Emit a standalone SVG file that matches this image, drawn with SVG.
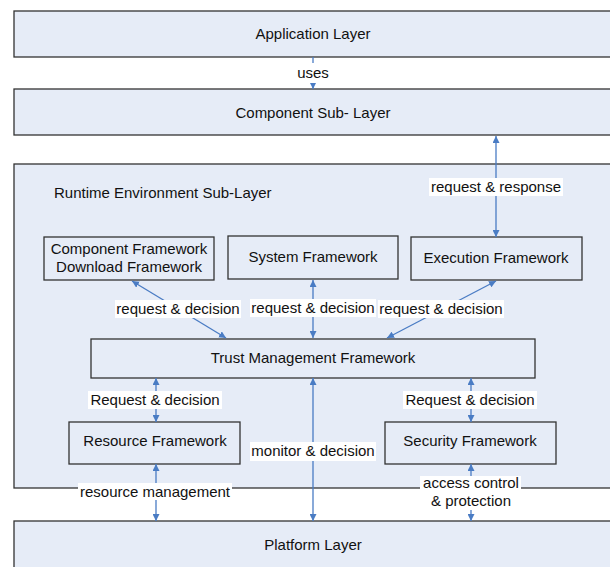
<svg xmlns="http://www.w3.org/2000/svg" width="610" height="567" viewBox="0 0 610 567">
<style>
.box{fill:#E6ECF7;stroke:#333;stroke-width:1.3}
.t{font-family:"Liberation Sans",Arial,sans-serif;font-size:15px;fill:#111;text-anchor:middle}
.tl{font-family:"Liberation Sans",Arial,sans-serif;font-size:15px;fill:#111}
.c{stroke:#4A7CC4;stroke-width:1.3;fill:none}
.bg{fill:#fff}
</style>
<defs>
<marker id="ah" viewBox="0 0 10 10" refX="10" refY="5" markerWidth="7" markerHeight="7" markerUnits="userSpaceOnUse" orient="auto-start-reverse">
<path d="M0,0 L10,5 L0,10 z" fill="#4A7CC4"/>
</marker>
</defs>
<rect width="610" height="567" fill="#fff"/>
<g id="application-layer"><rect class="box" x="14" y="11" width="610" height="46"/><text class="t" x="313" y="39">Application Layer</text></g>
<g id="component-sub-layer"><rect class="box" x="14" y="89" width="610" height="46"/><text class="t" x="313" y="118">Component Sub- Layer</text></g>
<g id="runtime-environment"><rect class="box" x="14" y="164" width="610" height="324"/><text class="tl" x="54" y="198">Runtime Environment Sub-Layer</text></g>
<g id="platform-layer"><rect class="box" x="14" y="521" width="610" height="60"/><text class="t" x="313" y="550">Platform Layer</text></g>
<g id="component-framework"><rect class="box" x="44" y="237" width="170" height="43"/><text class="t" x="129" y="254">Component Framework</text><text class="t" x="129" y="272">Download Framework</text></g>
<g id="system-framework"><rect class="box" x="228" y="236" width="170" height="43"/><text class="t" x="313" y="262">System Framework</text></g>
<g id="execution-framework"><rect class="box" x="411" y="237" width="171" height="43"/><text class="t" x="496" y="263">Execution Framework</text></g>
<g id="trust-management-framework"><rect class="box" x="91" y="339" width="444" height="39"/><text class="t" x="313" y="363">Trust Management Framework</text></g>
<g id="resource-framework"><rect class="box" x="69" y="422" width="171" height="42"/><text class="t" x="155" y="446">Resource Framework</text></g>
<g id="security-framework"><rect class="box" x="385" y="422" width="171" height="42"/><text class="t" x="470" y="446">Security Framework</text></g>
<g id="connectors">
<line class="c" x1="313" y1="57" x2="313" y2="89" marker-end="url(#ah)"/>
<line class="c" x1="496" y1="136" x2="496" y2="237" marker-start="url(#ah)" marker-end="url(#ah)"/>
<line class="c" x1="132" y1="281" x2="226" y2="338" marker-start="url(#ah)" marker-end="url(#ah)"/>
<line class="c" x1="313" y1="280" x2="313" y2="338" marker-start="url(#ah)" marker-end="url(#ah)"/>
<line class="c" x1="496" y1="281" x2="387" y2="338" marker-start="url(#ah)" marker-end="url(#ah)"/>
<line class="c" x1="156" y1="378" x2="156" y2="422" marker-start="url(#ah)" marker-end="url(#ah)"/>
<line class="c" x1="471" y1="378" x2="471" y2="422" marker-start="url(#ah)" marker-end="url(#ah)"/>
<line class="c" x1="313" y1="378" x2="313" y2="521" marker-start="url(#ah)" marker-end="url(#ah)"/>
<line class="c" x1="156" y1="464" x2="156" y2="521" marker-start="url(#ah)" marker-end="url(#ah)"/>
<line class="c" x1="471" y1="464" x2="471" y2="521" marker-start="url(#ah)" marker-end="url(#ah)"/>
<rect class="bg" x="296" y="63" width="34" height="20"/><text class="t" x="313" y="78">uses</text>
<rect class="bg" x="429" y="178" width="134" height="18"/><text class="t" x="496" y="192">request &amp; response</text>
<rect class="bg" x="115" y="300" width="126" height="18"/><text class="t" x="178" y="314">request &amp; decision</text>
<rect class="bg" x="250" y="299" width="126" height="18"/><text class="t" x="313" y="313">request &amp; decision</text>
<rect class="bg" x="378" y="300" width="126" height="18"/><text class="t" x="441" y="314">request &amp; decision</text>
<rect class="bg" x="88" y="391" width="134" height="18"/><text class="t" x="155" y="405">Request &amp; decision</text>
<rect class="bg" x="403" y="391" width="134" height="18"/><text class="t" x="470" y="405">Request &amp; decision</text>
<rect class="bg" x="250" y="442" width="126" height="19"/><text class="t" x="313" y="456">monitor &amp; decision</text>
<rect class="bg" x="78" y="483" width="154" height="17"/><text class="t" x="155" y="497">resource management</text>
<rect class="bg" x="420" y="476" width="101" height="34"/><text class="t" x="471" y="488">access control</text><text class="t" x="471" y="506">&amp; protection</text>
</g>
</svg>
